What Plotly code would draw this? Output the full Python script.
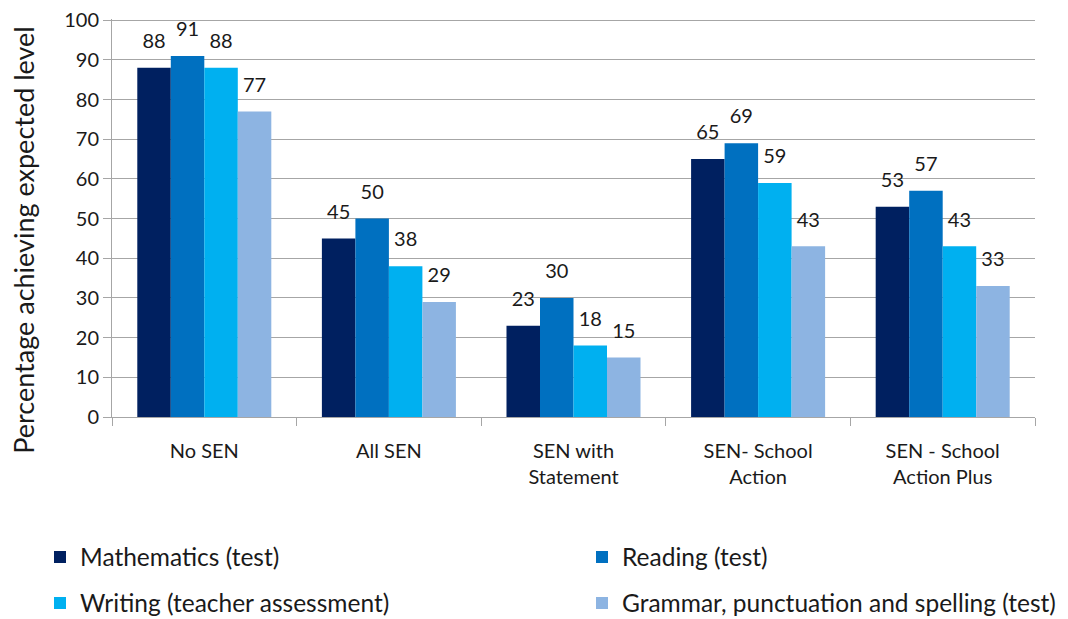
import plotly.graph_objects as go

categories = ["No SEN", "All SEN", "SEN with<br>Statement", "SEN- School<br>Action", "SEN - School<br>Action Plus"]
series_names = ["Mathematics (test)", "Reading (test)", "Writing (teacher assessment)",
                "Grammar, punctuation and spelling (test)"]
mathematics = [88, 45, 23, 65, 53]
reading = [91, 50, 30, 69, 57]
writing = [88, 38, 18, 59, 43]
grammar = [77, 29, 15, 43, 33]
y_ticks = list(range(0, 101, 10))
y_title = "Percentage achieving expected level"

colors = ["#002060", "#0070C0", "#00B0F0", "#8DB4E2"]
values = [mathematics, reading, writing, grammar]
legend_ids = ["legend", "legend2", "legend3", "legend4"]
FONT = "Lato"
TXT = "#1a1a1a"
W, H = 1060, 611  # page body has an 8px margin

fig = go.Figure()
for i, (name, vals) in enumerate(zip(series_names, values)):
    fig.add_trace(go.Bar(
        x=categories, y=vals, name=name, marker_color=colors[i],
        marker_line_width=0, offsetgroup=str(i), legend=legend_ids[i],
    ))
for i, vals in enumerate(values):
    fig.add_trace(go.Scatter(
        x=categories, y=vals, mode="text+markers", text=[str(v) for v in vals],
        textposition="top center", offsetgroup=str(i), showlegend=False,
        marker=dict(size=22, opacity=0), cliponaxis=False, hoverinfo="skip",
        textfont=dict(family=FONT, size=20, color=TXT),
    ))

leg_pos = [(32, 549), (574, 549), (32, 595), (574, 595)]
legend_layouts = {}
for lid, (lx, ly) in zip(legend_ids, leg_pos):
    legend_layouts[lid] = dict(
        orientation="h", xref="container", yref="container", x=lx / W, y=(H - ly) / H,
        xanchor="left", yanchor="middle", font=dict(family=FONT, size=24.5, color=TXT),
        bgcolor="rgba(0,0,0,0)",
    )

fig.update_layout(
    width=W, height=H,
    margin=dict(l=104, r=33, t=11, b=202, autoexpand=False),
    paper_bgcolor="white", plot_bgcolor="white",
    barmode="group", bargap=0.274, bargroupgap=0,
    scattermode="group", scattergap=0.274,
    font=dict(family=FONT, size=20, color=TXT),
    showlegend=True,
    **legend_layouts,
)
fig.add_annotation(
    text=y_title, textangle=-90, xref="paper", yref="paper", x=0, y=0.443,
    xanchor="center", yanchor="middle", xshift=-88, showarrow=False,
    font=dict(family=FONT, size=27, color=TXT),
)
fig.update_yaxes(
    range=[0, 100.3], tickvals=y_ticks, ticksuffix="\u00a0", showgrid=True,
    gridcolor="#a6a6a6", gridwidth=1, ticklabeloverflow="allow",
    showline=True, linecolor="#a6a6a6", linewidth=1, ticks="outside", ticklen=8,
    tickcolor="#a6a6a6", tickfont=dict(family=FONT, size=20, color=TXT), zeroline=False,
)
fig.update_xaxes(
    showline=True, linecolor="#a6a6a6", linewidth=1, ticks="outside", ticklen=8,
    tickcolor="#a6a6a6", tickson="boundaries", tickfont=dict(family=FONT, size=20, color=TXT),
    showgrid=False, ticklabelstandoff=16,
)
fig.write_html("out.html")
